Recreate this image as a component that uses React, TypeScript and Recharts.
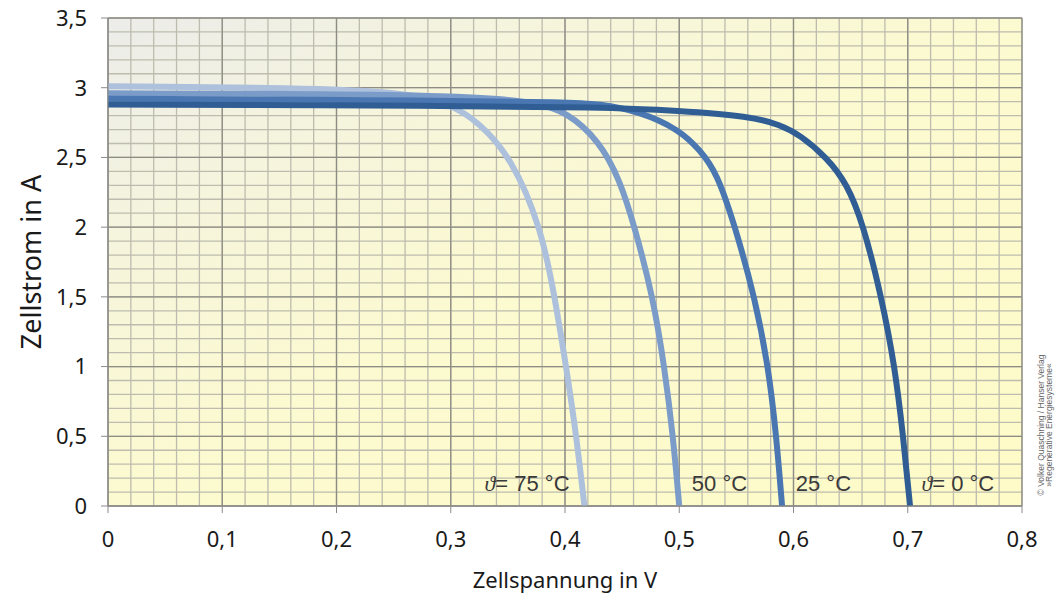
import React from 'react';
import {
  LineChart,
  Line,
  XAxis,
  YAxis,
  CartesianGrid,
  ReferenceDot,
} from 'recharts';

type Pt = { u: number; i: number };

// I-V curves (u in V, i in A)
const CURVE_75: Pt[] = [
  { u: 0, i: 3.01 },
  { u: 0.168, i: 3.0 },
  { u: 0.255, i: 2.97 },
  { u: 0.299, i: 2.89 },
  { u: 0.325, i: 2.75 },
  { u: 0.353, i: 2.5 },
  { u: 0.379, i: 2.0 },
  { u: 0.391, i: 1.5 },
  { u: 0.401, i: 1.0 },
  { u: 0.41, i: 0.5 },
  { u: 0.417, i: 0 },
];

const CURVE_50: Pt[] = [
  { u: 0, i: 2.96 },
  { u: 0.2, i: 2.955 },
  { u: 0.3, i: 2.94 },
  { u: 0.343, i: 2.92 },
  { u: 0.375, i: 2.89 },
  { u: 0.401, i: 2.83 },
  { u: 0.43, i: 2.62 },
  { u: 0.448, i: 2.34 },
  { u: 0.461, i: 2.0 },
  { u: 0.477, i: 1.5 },
  { u: 0.487, i: 1.0 },
  { u: 0.4946, i: 0.5 },
  { u: 0.5, i: 0 },
];

const CURVE_25: Pt[] = [
  { u: 0, i: 2.92 },
  { u: 0.3, i: 2.91 },
  { u: 0.4, i: 2.895 },
  { u: 0.43, i: 2.885 },
  { u: 0.465, i: 2.83 },
  { u: 0.5, i: 2.7 },
  { u: 0.518, i: 2.554 },
  { u: 0.533, i: 2.39 },
  { u: 0.549, i: 2.0 },
  { u: 0.566, i: 1.5 },
  { u: 0.578, i: 1.0 },
  { u: 0.585, i: 0.5 },
  { u: 0.59, i: 0 },
];

const CURVE_0: Pt[] = [
  { u: 0, i: 2.88 },
  { u: 0.3, i: 2.87 },
  { u: 0.43, i: 2.86 },
  { u: 0.5, i: 2.835 },
  { u: 0.562, i: 2.795 },
  { u: 0.588, i: 2.735 },
  { u: 0.606, i: 2.66 },
  { u: 0.629, i: 2.5 },
  { u: 0.647, i: 2.31 },
  { u: 0.661, i: 2.02 },
  { u: 0.677, i: 1.5 },
  { u: 0.6887, i: 1.0 },
  { u: 0.696, i: 0.5 },
  { u: 0.702, i: 0 },
];

const X_TICKS = [0, 0.1, 0.2, 0.3, 0.4, 0.5, 0.6, 0.7, 0.8];
const Y_TICKS = [0, 0.5, 1, 1.5, 2, 2.5, 3, 3.5];
// fine grid: 0.02 V and 0.1 A
const X_MINOR = Array.from({ length: 41 }, (_, k) => +(k * 0.02).toFixed(2));
const Y_MINOR = Array.from({ length: 36 }, (_, k) => +(k * 0.1).toFixed(1));

const SERIES = [
  { key: '75', data: CURVE_75, color: '#adc0dc' },
  { key: '50', data: CURVE_50, color: '#7b9bc9' },
  { key: '25', data: CURVE_25, color: '#4a77b1' },
  { key: '0', data: CURVE_0, color: '#2f5d94' },
];

const LABELS: { u: number; i: number; theta: boolean; text: string; anchor: 'start' | 'end' }[] = [
  { u: 0.404, i: 0.11, theta: true, text: '= 75 °C', anchor: 'end' },
  { u: 0.511, i: 0.11, theta: false, text: '50 °C', anchor: 'start' },
  { u: 0.602, i: 0.11, theta: false, text: '25 °C', anchor: 'start' },
  { u: 0.712, i: 0.11, theta: true, text: '= 0 °C', anchor: 'start' },
];

const fmt = (v: number) => String(v).replace('.', ',');

const FONT = '"Noto Sans", "Open Sans", sans-serif';
const TICK_STYLE = { fontFamily: FONT, fontSize: 22, fill: '#1a1a1a' };

function CurveLabel(props: any) {
  const { viewBox, theta, text, anchor } = props;
  return (
    <text
      x={viewBox.x}
      y={viewBox.y}
      textAnchor={anchor}
      fontFamily='"Liberation Sans", Arial, sans-serif'
      fontSize={22}
      fill="#3a3a3a"
    >
      {theta && (
        <tspan fontStyle="italic" fontFamily='"Liberation Serif", serif'>
          ϑ
        </tspan>
      )}
      {text}
    </text>
  );
}

function YTitle(props: any) {
  const { viewBox } = props;
  const cx = 30;
  const cy = viewBox.y + viewBox.height / 2;
  return (
    <text
      x={cx}
      y={cy}
      textAnchor="middle"
      dominantBaseline="central"
      transform={`rotate(-90 ${cx} ${cy})`}
      fontFamily={FONT}
      fontSize={27}
      fill="#1a1a1a"
    >
      Zellstrom in A
    </text>
  );
}

export default function App() {
  return (
    <div style={{ position: 'absolute', left: 0, top: 0, width: 1058, height: 593, background: '#fff' }}>
      <LineChart width={1058} height={593} margin={{ top: 18, right: 36, bottom: 5, left: 0 }}>
        <defs>
          <linearGradient id="bgGrad" x1="0" y1="0" x2="1" y2="1">
            <stop offset="0" stopColor="#ececea" />
            <stop offset="0.25" stopColor="#f6f5dc" />
            <stop offset="0.5" stopColor="#fcfad0" />
            <stop offset="1" stopColor="#fefbc8" />
          </linearGradient>
        </defs>

        <CartesianGrid
          verticalValues={X_MINOR}
          horizontalValues={Y_MINOR}
          stroke="#bdbcae"
          strokeWidth={1.3}
          fill="url(#bgGrad)"
          fillOpacity={1}
        />
        <CartesianGrid stroke="#8e8d84" strokeWidth={1.3} />

        <XAxis
          type="number"
          dataKey="u"
          domain={[0, 0.8]}
          ticks={X_TICKS}
          interval={0}
          allowDataOverflow
          tickFormatter={fmt}
          tick={TICK_STYLE}
          tickSize={7}
          tickMargin={18}
          stroke="#8a8a8a"
          height={82}
          label={{
            value: 'Zellspannung in V',
            position: 'insideBottom',
            offset: 0,
            style: { fontFamily: FONT, fontSize: 22, fill: '#1a1a1a' },
          }}
        />
        <YAxis
          type="number"
          domain={[0, 3.5]}
          ticks={Y_TICKS}
          interval={0}
          allowDataOverflow
          tickFormatter={fmt}
          tick={TICK_STYLE}
          tickSize={7}
          tickMargin={14}
          stroke="#8a8a8a"
          width={108}
          label={<YTitle />}
        />

        {SERIES.map((s) => (
          <Line
            key={s.key}
            data={s.data}
            dataKey="i"
            type="basis"
            stroke={s.color}
            strokeWidth={6}
            dot={false}
            activeDot={false}
            isAnimationActive={false}
          />
        ))}

        {LABELS.map((l) => (
          <ReferenceDot
            key={l.text}
            x={l.u}
            y={l.i}
            r={0}
            fill="none"
            stroke="none"
            ifOverflow="visible"
            label={<CurveLabel theta={l.theta} text={l.text} anchor={l.anchor} />}
          />
        ))}
      </LineChart>

      <div
        style={{
          position: 'absolute',
          left: 1045,
          top: 425,
          transform: 'translate(-50%, -50%) rotate(-90deg)',
          fontFamily: '"Liberation Sans", Arial, sans-serif',
          fontSize: 8.5,
          lineHeight: '8px',
          color: '#666',
          whiteSpace: 'nowrap',
          textAlign: 'center',
        }}
      >
        © Volker Quaschning / Hanser Verlag
        <br />
        »Regenerative Energiesysteme«
      </div>
    </div>
  );
}
